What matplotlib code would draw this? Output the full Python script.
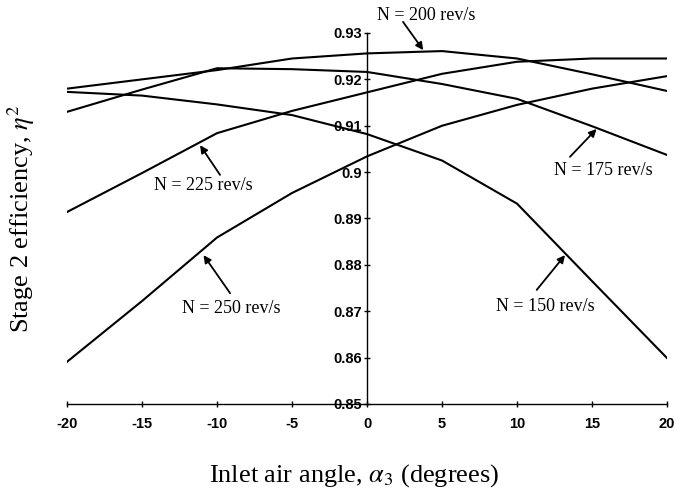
import matplotlib
matplotlib.use("Agg")
import matplotlib.pyplot as plt

# Inlet air angle (degrees) and stage 2 efficiency per rotor speed
alpha3 = [-20, -15, -10, -5, 0, 5, 10, 15, 20]
eff_150 = [0.9173, 0.9165, 0.9146, 0.9123, 0.9082, 0.9025, 0.8932, 0.8765, 0.8599]
eff_175 = [0.9130, 0.9178, 0.9224, 0.9222, 0.9216, 0.9190, 0.9158, 0.9099, 0.9037]
eff_200 = [0.9180, 0.9200, 0.9220, 0.9245, 0.9256, 0.9261, 0.9245, 0.9211, 0.9175]
eff_225 = [0.8914, 0.8998, 0.9084, 0.9132, 0.9172, 0.9212, 0.9238, 0.9245, 0.9245]
eff_250 = [0.8591, 0.8722, 0.8859, 0.8955, 0.9034, 0.9100, 0.9145, 0.9180, 0.9207]

labels = ["N = 150 rev/s", "N = 175 rev/s", "N = 200 rev/s", "N = 225 rev/s", "N = 250 rev/s"]

x_ticks = [-20, -15, -10, -5, 0, 5, 10, 15, 20]
y_ticks = [0.85, 0.86, 0.87, 0.88, 0.89, 0.9, 0.91, 0.92, 0.93]

plt.rcParams['mathtext.fontset'] = 'stix'
serif = 'Liberation Serif'
sans = 'Liberation Sans'

fig = plt.figure(figsize=(6.75, 4.91), dpi=100)
ax = fig.add_axes([0.0993, 0.1772, 0.8889, 0.7556])

for ys in [eff_150, eff_175, eff_200, eff_225, eff_250]:
    ax.plot(alpha3, ys, color='black', lw=1.5, solid_joinstyle='round')

ax.set_xlim(-20, 20)
ax.set_ylim(0.85, 0.93)

# axes cross at x = 0, like the original
ax.spines['left'].set_position(('data', 0))
ax.spines['top'].set_visible(False)
ax.spines['right'].set_visible(False)
for s in ['left', 'bottom']:
    ax.spines[s].set_linewidth(1.0)

ax.set_xticks(x_ticks)
ax.set_xticklabels([str(v) for v in x_ticks])
ax.set_yticks(y_ticks)
ax.set_yticklabels(['0.85', '0.86', '0.87', '0.88', '0.89', '0.9', '0.91', '0.92', '0.93'])
ax.tick_params(axis='x', direction='inout', length=5, width=1.0, pad=7)
ax.tick_params(axis='y', direction='inout', length=5, width=1.0, pad=1)
for t in ax.get_xticklabels() + ax.get_yticklabels():
    t.set_fontfamily(sans)
    t.set_fontsize(10.5)
    t.set_fontweight('bold')

ax.set_xlabel(r'Inlet air angle, $\alpha_3$ (degrees)', fontfamily=serif, fontsize=19, labelpad=22)
ax.xaxis.label.set_x(0.478)
ax.set_ylabel(r'Stage 2 efficiency, $\eta^2$', fontfamily=serif, fontsize=19)
ax.yaxis.set_label_coords(-0.05, 0.5, transform=ax.transAxes)

# text position, arrow tail, arrow tip
notes = [
    (labels[0], (11.87, 0.8710), (11.31, 0.8746), (13.2, 0.8821)),
    (labels[1], (15.73, 0.9004), (13.53, 0.9033), (15.3, 0.9093)),
    (labels[2], (3.93, 0.9338), (2.4, 0.9324), (3.75, 0.9263)),
    (labels[3], (-10.9, 0.8972), (-9.8, 0.8994), (-11.13, 0.9058)),
    (labels[4], (-9.02, 0.8706), (-9.13, 0.8739), (-10.9, 0.8821)),
]
for txt, pos, tail, tip in notes:
    ax.text(pos[0], pos[1], txt, ha='center', va='center', fontfamily=serif,
            fontsize=13, clip_on=False)
    ax.annotate('', xy=tip, xytext=tail, annotation_clip=False,
                arrowprops=dict(arrowstyle='-|>', color='black', lw=1.3,
                                mutation_scale=11, shrinkA=0, shrinkB=0))

fig.savefig("out.png", dpi=100)
